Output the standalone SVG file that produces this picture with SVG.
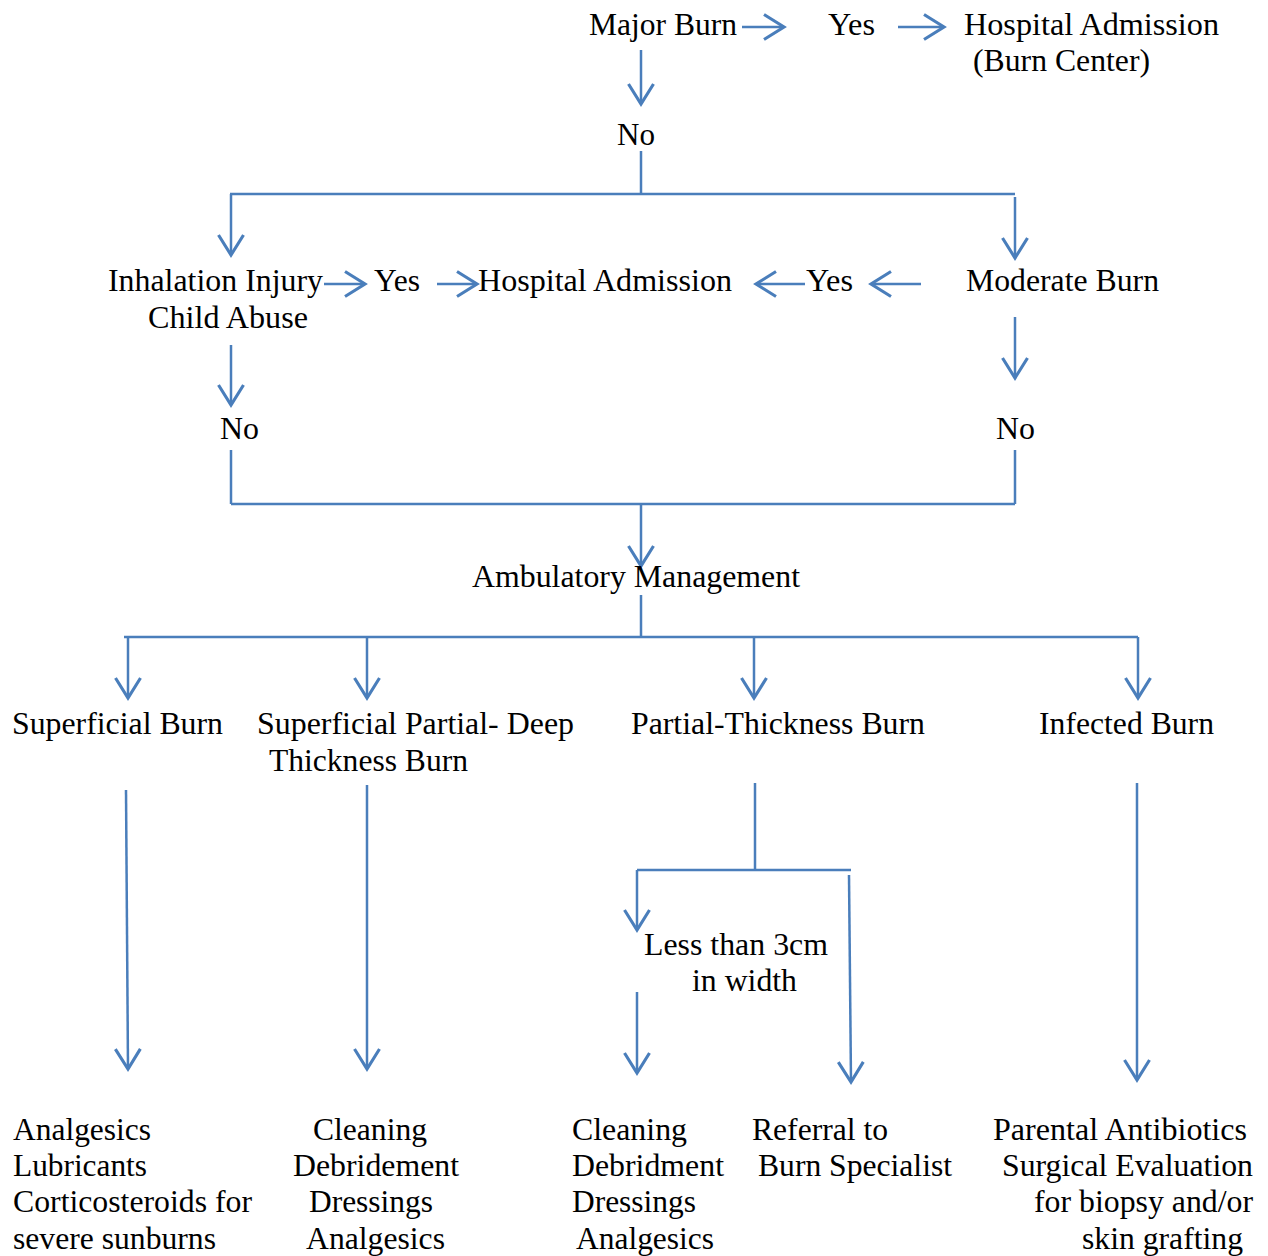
<svg xmlns="http://www.w3.org/2000/svg" width="1268" height="1256" viewBox="0 0 1268 1256">
<style>
text{font-family:'Liberation Serif','Times New Roman','DejaVu Serif',serif;font-size:31px;fill:#000}
.c line,.c path{stroke:#4a7ebb;stroke-width:2.5;fill:none}
.a{marker-end:url(#ah)}
</style>
<defs>
<marker id="ah" markerUnits="userSpaceOnUse" markerWidth="30" markerHeight="30" viewBox="-20 -12 24 24" refX="0" refY="0" orient="auto">
<path d="M-16,-10 L0,0 L-16,10" fill="none" stroke="#4a7ebb" stroke-width="2.5"/>
</marker>
</defs>
<rect width="1268" height="1256" fill="#fff"/>
<g id="connectors" class="c">
<line class="a" x1="742" y1="27" x2="784" y2="27"/>
<line class="a" x1="898" y1="27" x2="944" y2="27"/>
<line class="a" x1="641" y1="50" x2="641" y2="104"/>
<line x1="641" y1="151" x2="641" y2="194"/>
<line x1="230" y1="194" x2="1015" y2="194"/>
<line class="a" x1="231" y1="194" x2="231" y2="255"/>
<line class="a" x1="1015" y1="197" x2="1015" y2="258"/>
<line class="a" x1="324" y1="284" x2="365" y2="284"/>
<line class="a" x1="437" y1="284" x2="477" y2="284"/>
<line class="a" x1="805" y1="284" x2="756" y2="284"/>
<line class="a" x1="921" y1="284" x2="871" y2="284"/>
<line class="a" x1="231" y1="345" x2="231" y2="405"/>
<line class="a" x1="1015" y1="317" x2="1015" y2="378"/>
<line x1="231" y1="450" x2="231" y2="504"/>
<line x1="1015" y1="450" x2="1015" y2="504"/>
<line x1="231" y1="504" x2="1015" y2="504"/>
<line class="a" x1="641" y1="504" x2="641" y2="566"/>
<line x1="641" y1="595" x2="641" y2="637"/>
<line x1="124" y1="637" x2="1138" y2="637"/>
<line class="a" x1="128" y1="637" x2="128" y2="698"/>
<line class="a" x1="367" y1="637" x2="367" y2="698"/>
<line class="a" x1="754" y1="637" x2="754" y2="698"/>
<line class="a" x1="1138" y1="637" x2="1138" y2="698"/>
<line class="a" x1="126" y1="790" x2="128" y2="1069"/>
<line class="a" x1="367" y1="785" x2="367" y2="1069"/>
<line x1="755" y1="783" x2="755" y2="870"/>
<line x1="637" y1="870" x2="851" y2="870"/>
<line class="a" x1="637" y1="870" x2="637" y2="930"/>
<line class="a" x1="637" y1="992" x2="637" y2="1073"/>
<line class="a" x1="849" y1="875" x2="851" y2="1082"/>
<line class="a" x1="1137" y1="783" x2="1137" y2="1080"/>
</g>
<g font-family="'Liberation Serif','Times New Roman','DejaVu Serif',serif">
<g id="major-burn"><text x="589" y="35" textLength="148" lengthAdjust="spacingAndGlyphs">Major Burn</text></g>
<g id="yes-top"><text x="828" y="35" textLength="47" lengthAdjust="spacingAndGlyphs">Yes</text></g>
<g id="hospital-burn-center"><text x="964" y="35" textLength="255" lengthAdjust="spacingAndGlyphs">Hospital Admission</text><text x="973" y="71" textLength="177" lengthAdjust="spacingAndGlyphs">(Burn Center)</text></g>
<g id="no-top"><text x="617" y="145" textLength="38" lengthAdjust="spacingAndGlyphs">No</text></g>
<g id="inhalation"><text x="108" y="291" textLength="215" lengthAdjust="spacingAndGlyphs">Inhalation Injury</text><text x="148" y="328" textLength="160" lengthAdjust="spacingAndGlyphs">Child Abuse</text></g>
<g id="yes-left"><text x="374" y="291" textLength="46" lengthAdjust="spacingAndGlyphs">Yes</text></g>
<g id="hospital"><text x="478" y="291" textLength="254" lengthAdjust="spacingAndGlyphs">Hospital Admission</text></g>
<g id="yes-right"><text x="806" y="291" textLength="47" lengthAdjust="spacingAndGlyphs">Yes</text></g>
<g id="moderate-burn"><text x="966" y="291" textLength="193" lengthAdjust="spacingAndGlyphs">Moderate Burn</text></g>
<g id="no-left"><text x="220" y="439" textLength="39" lengthAdjust="spacingAndGlyphs">No</text></g>
<g id="no-right"><text x="996" y="439" textLength="39" lengthAdjust="spacingAndGlyphs">No</text></g>
<g id="ambulatory"><text x="472" y="587" textLength="328" lengthAdjust="spacingAndGlyphs">Ambulatory Management</text></g>
<g id="superficial"><text x="12" y="734" textLength="211" lengthAdjust="spacingAndGlyphs">Superficial Burn</text></g>
<g id="sup-partial"><text x="257" y="734" textLength="317" lengthAdjust="spacingAndGlyphs">Superficial Partial- Deep</text><text x="269" y="771" textLength="199" lengthAdjust="spacingAndGlyphs">Thickness Burn</text></g>
<g id="partial"><text x="631" y="734" textLength="294" lengthAdjust="spacingAndGlyphs">Partial-Thickness Burn</text></g>
<g id="infected"><text x="1039" y="734" textLength="175" lengthAdjust="spacingAndGlyphs">Infected Burn</text></g>
<g id="less-3cm"><text x="644" y="955" textLength="184" lengthAdjust="spacingAndGlyphs">Less than 3cm</text><text x="692" y="991" textLength="105" lengthAdjust="spacingAndGlyphs">in width</text></g>
<g id="tx-superficial">
<text x="13" y="1140" textLength="138" lengthAdjust="spacingAndGlyphs">Analgesics</text>
<text x="13" y="1176" textLength="134" lengthAdjust="spacingAndGlyphs">Lubricants</text>
<text x="13" y="1212" textLength="239" lengthAdjust="spacingAndGlyphs">Corticosteroids for</text>
<text x="13" y="1249" textLength="203" lengthAdjust="spacingAndGlyphs">severe sunburns</text>
</g>
<g id="tx-sup-partial">
<text x="313" y="1140" textLength="114" lengthAdjust="spacingAndGlyphs">Cleaning</text>
<text x="293" y="1176" textLength="166" lengthAdjust="spacingAndGlyphs">Debridement</text>
<text x="309" y="1212" textLength="124" lengthAdjust="spacingAndGlyphs">Dressings</text>
<text x="306" y="1249" textLength="139" lengthAdjust="spacingAndGlyphs">Analgesics</text>
</g>
<g id="tx-less-3cm">
<text x="572" y="1140" textLength="115" lengthAdjust="spacingAndGlyphs">Cleaning</text>
<text x="572" y="1176" textLength="152" lengthAdjust="spacingAndGlyphs">Debridment</text>
<text x="572" y="1212" textLength="124" lengthAdjust="spacingAndGlyphs">Dressings</text>
<text x="576" y="1249" textLength="138" lengthAdjust="spacingAndGlyphs">Analgesics</text>
</g>
<g id="tx-referral">
<text x="752" y="1140" textLength="136" lengthAdjust="spacingAndGlyphs">Referral to</text>
<text x="758" y="1176" textLength="194" lengthAdjust="spacingAndGlyphs">Burn Specialist</text>
</g>
<g id="tx-infected">
<text x="993" y="1140" textLength="254" lengthAdjust="spacingAndGlyphs">Parental Antibiotics</text>
<text x="1002" y="1176" textLength="251" lengthAdjust="spacingAndGlyphs">Surgical Evaluation</text>
<text x="1034" y="1212" textLength="219" lengthAdjust="spacingAndGlyphs">for biopsy and/or</text>
<text x="1082" y="1249" textLength="161" lengthAdjust="spacingAndGlyphs">skin grafting</text>
</g>
</g>
</svg>
